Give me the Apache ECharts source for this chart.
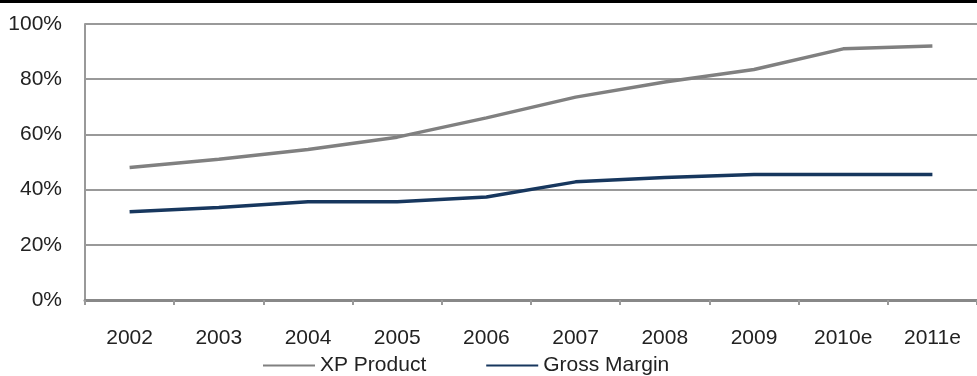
<!DOCTYPE html>
<html>
<head>
<meta charset="utf-8">
<script src="https://cdn.jsdelivr.net/npm/echarts@6/dist/echarts.min.js"></script>
<style>
  html, body { margin: 0; padding: 0; background: #fff; }
  #chart { width: 977px; height: 376px; }
</style>
</head>
<body>
<div id="chart"></div>
<script>
const years = ['2002', '2003', '2004', '2005', '2006', '2007', '2008', '2009', '2010e', '2011e']
const xpProduct = [48, 51, 54.5, 59, 66, 73.5, 79, 83.5, 91, 92]
const grossMargin = [32, 33.5, 35.6, 35.6, 37.3, 42.8, 44.4, 45.5, 45.5, 45.5]

const textColor = '#222'
const fontFamily = 'Liberation Sans, Arial, sans-serif'

const chart = echarts.init(document.getElementById('chart'))
chart.setOption({
  animation: false,
  textStyle: { fontFamily: fontFamily },
  graphic: [{
    type: 'rect',
    left: 0,
    top: 0,
    shape: { width: 977, height: 3 },
    style: { fill: '#000' }
  }],
  grid: {
    left: 85,
    right: -8,
    top: 24,
    bottom: 76
  },
  legend: {
    bottom: 0,
    left: 263,
    padding: 0,
    itemGap: 60,
    itemWidth: 52,
    itemHeight: 2,
    icon: 'rect',
    textStyle: { color: textColor, fontSize: 21, fontFamily: fontFamily },
    data: ['XP Product', 'Gross Margin']
  },
  xAxis: {
    type: 'category',
    data: years,
    boundaryGap: true,
    axisLine: { lineStyle: { color: '#888', width: 3 } },
    axisTick: { show: true, length: 5, lineStyle: { color: '#999', width: 2 } },
    axisLabel: { color: textColor, fontSize: 21, margin: 28 }
  },
  yAxis: {
    type: 'value',
    min: 0,
    max: 100,
    interval: 20,
    axisLine: { show: true, lineStyle: { color: '#999', width: 2 } },
    axisTick: { show: false },
    axisLabel: { color: textColor, fontSize: 21, margin: 23, formatter: '{value}%' },
    splitLine: { lineStyle: { color: '#999', width: 2 } }
  },
  series: [{
    name: 'XP Product',
    type: 'line',
    data: xpProduct,
    symbol: 'none',
    itemStyle: { color: '#808080' },
    lineStyle: { color: '#808080', width: 3.5 }
  }, {
    name: 'Gross Margin',
    type: 'line',
    data: grossMargin,
    symbol: 'none',
    itemStyle: { color: '#17375E' },
    lineStyle: { color: '#17375E', width: 3.5 }
  }]
})
</script>
</body>
</html>
